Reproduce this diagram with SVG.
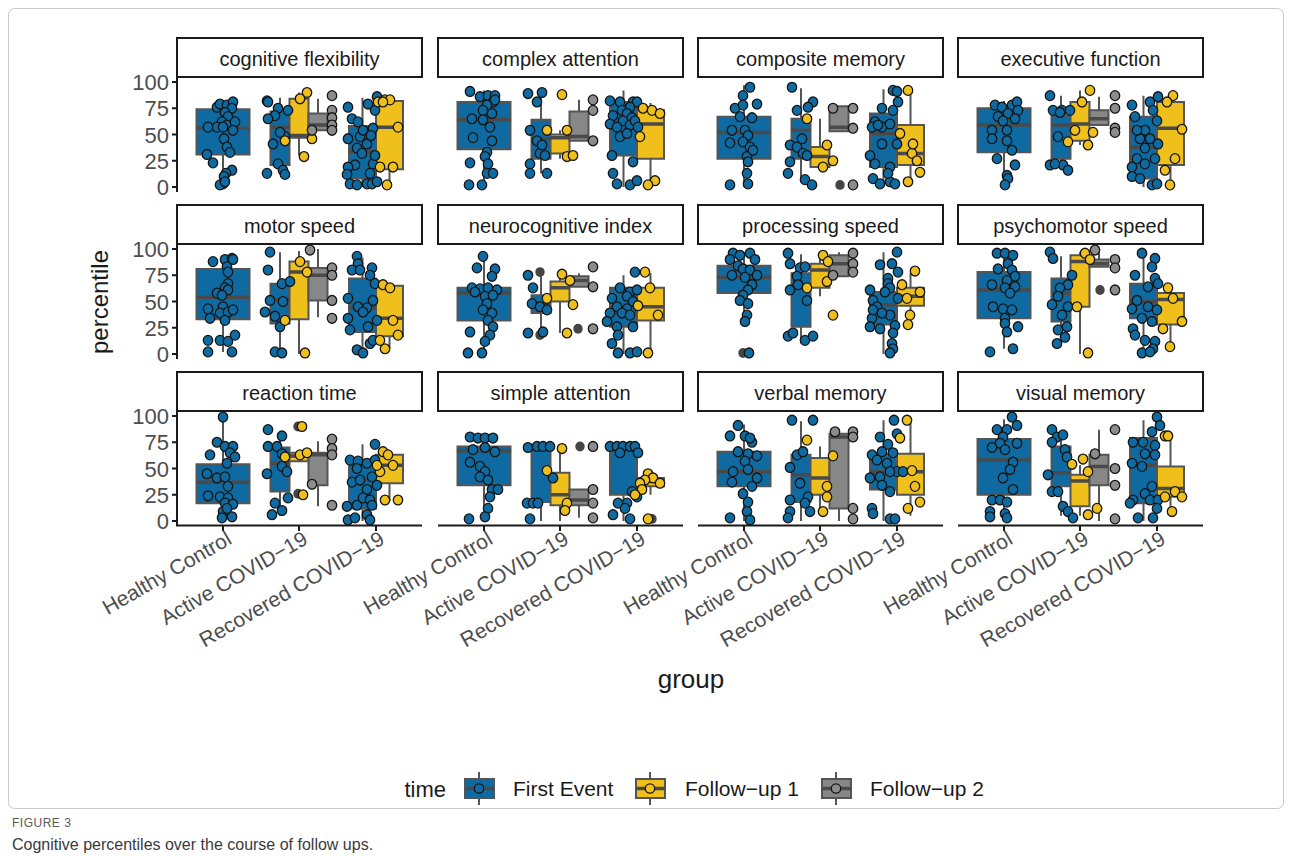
<svg xmlns="http://www.w3.org/2000/svg" width="1292" height="856" viewBox="0 0 1292 856">
<style>
text{font-family:"Liberation Sans",Arial,sans-serif}
.strip rect{fill:#fff;stroke:#1a1a1a;stroke-width:2}
.strip text{font-size:20px;fill:#1a1a1a;text-anchor:middle}
.tk{font-size:22px;fill:#4d4d4d;text-anchor:end}
.xl{font-size:21px;fill:#4d4d4d;text-anchor:end}
.ax{stroke:#1a1a1a;stroke-width:2;fill:none}
.w{stroke:#555;stroke-width:2;fill:none;vector-effect:non-scaling-stroke}
.md{stroke:#4a4a4a;stroke-width:3.5;fill:none;vector-effect:non-scaling-stroke}
.bx{stroke:#555;stroke-width:2;vector-effect:non-scaling-stroke}
.fb{fill:#0e6aa0}.fy{fill:#efbf1c}.fg{fill:#878787}
circle{r:4.7px;stroke:#151515;stroke-width:1.3;vector-effect:non-scaling-stroke}
.pb circle{fill:#0e6aa0}.py circle{fill:#efbf1c}.pg circle{fill:#8c8c8c}
.po circle{fill:#454545;stroke:none}
.lg{font-size:21px;fill:#1a1a1a}
</style>
<rect width="1292" height="856" fill="#fff"/>
<rect x="8.5" y="8.5" width="1275" height="800" rx="6" fill="none" stroke="#c8c8c8" stroke-width="1"/>

<g id="panel-cognitive-flexibility" transform="translate(177,187) scale(1,-1.05)">
<path class="w" d="M46 0V31M46 74V82M103 12V21M103 72V85M122 30V47M122 84V90M141 54V54M141 70V84M185.5 0V8M185.5 58V85M212.5 0V17M212.5 82V85"/>
<rect class="bx fb" x="19.5" y="31" width="53" height="43"/><rect class="bx fb" x="93.5" y="21" width="19" height="51"/><rect class="bx fy" x="112.5" y="47" width="19" height="37"/><rect class="bx fg" x="131.5" y="54" width="19" height="16"/><rect class="bx fb" x="172" y="8" width="27" height="50"/><rect class="bx fy" x="199" y="17" width="27" height="65"/>
<path class="md" d="M19.5 56H72.5M93.5 57H112.5M112.5 49H131.5M131.5 59H150.5M172 34H199M199 57H226"/>
<g class="pb"><circle cx="30" cy="31"/><circle cx="36" cy="23"/><circle cx="40" cy="76"/><circle cx="43" cy="79"/><circle cx="50" cy="78"/><circle cx="56" cy="81"/><circle cx="55" cy="75"/><circle cx="48" cy="71"/><circle cx="51" cy="67"/><circle cx="45" cy="62"/><circle cx="50" cy="59"/><circle cx="40" cy="57"/><circle cx="31" cy="57"/><circle cx="46" cy="57"/><circle cx="58" cy="62"/><circle cx="56" cy="54"/><circle cx="47" cy="46"/><circle cx="50" cy="38"/><circle cx="53" cy="33"/><circle cx="55" cy="16"/><circle cx="49" cy="13"/><circle cx="47" cy="10"/><circle cx="46" cy="3"/><circle cx="43" cy="2"/><circle cx="48" cy="5"/>
<circle cx="90" cy="82"/><circle cx="91" cy="81"/><circle cx="101" cy="75"/><circle cx="111" cy="73"/><circle cx="98" cy="68"/><circle cx="91" cy="65"/><circle cx="96" cy="41"/><circle cx="108" cy="48"/><circle cx="101" cy="22"/><circle cx="106" cy="16"/><circle cx="108" cy="12"/><circle cx="90" cy="13"/><circle cx="103" cy="52"/>
<circle cx="171" cy="76"/><circle cx="175" cy="65"/><circle cx="181" cy="62"/><circle cx="171" cy="46"/><circle cx="183" cy="48"/><circle cx="186" cy="54"/><circle cx="190" cy="41"/><circle cx="180" cy="37"/><circle cx="185" cy="32"/><circle cx="178" cy="21"/><circle cx="171" cy="19"/><circle cx="170" cy="12"/><circle cx="173" cy="3"/><circle cx="180" cy="2"/><circle cx="190" cy="3"/><circle cx="195" cy="3"/><circle cx="200" cy="5"/><circle cx="193" cy="13"/><circle cx="196" cy="22"/><circle cx="198" cy="30"/><circle cx="196" cy="56"/><circle cx="191" cy="79"/><circle cx="200" cy="86"/><circle cx="198" cy="73"/><circle cx="194" cy="49"/></g>
<g class="py"><circle cx="130" cy="90"/><circle cx="123" cy="84"/><circle cx="108" cy="44"/><circle cx="135" cy="46"/><circle cx="127" cy="29"/><circle cx="201" cy="81"/><circle cx="208" cy="83"/><circle cx="213" cy="83"/><circle cx="221" cy="57"/><circle cx="203" cy="19"/><circle cx="216" cy="19"/><circle cx="210" cy="2"/><circle cx="206" cy="81"/></g>
<g class="pg"><circle cx="155" cy="87"/><circle cx="155" cy="73"/><circle cx="155" cy="66"/><circle cx="155" cy="59"/><circle cx="155" cy="54"/><circle cx="135" cy="54"/></g>
</g>

<g id="panel-complex-attention" transform="translate(438,187) scale(1,-1.05)">
<path class="w" d="M46 0V36M46 81V92M103 13V27M103 64V90M122 27V32M122 50V54M141 44V44M141 72V83M185.5 0V30M185.5 81V92M212.5 0V27M212.5 73V80"/>
<rect class="bx fb" x="19.5" y="36" width="53" height="45"/><rect class="bx fb" x="93.5" y="27" width="19" height="37"/><rect class="bx fy" x="112.5" y="32" width="19" height="18"/><rect class="bx fg" x="131.5" y="44" width="19" height="28"/><rect class="bx fb" x="172" y="30" width="27" height="51"/><rect class="bx fy" x="199" y="27" width="27" height="46"/>
<path class="md" d="M19.5 64H72.5M93.5 46H112.5M112.5 47H131.5M131.5 48H150.5M172 60H199M199 60H226"/>
<g class="pb"><circle cx="32" cy="91"/><circle cx="42" cy="86"/><circle cx="50" cy="87"/><circle cx="57" cy="87"/><circle cx="55" cy="81"/><circle cx="49" cy="78"/><circle cx="45" cy="73"/><circle cx="54" cy="70"/><circle cx="34" cy="65"/><circle cx="45" cy="64"/><circle cx="52" cy="57"/><circle cx="35" cy="47"/><circle cx="54" cy="44"/><circle cx="49" cy="33"/><circle cx="47" cy="29"/><circle cx="50" cy="22"/><circle cx="32" cy="23"/><circle cx="49" cy="13"/><circle cx="55" cy="13"/><circle cx="31" cy="2"/><circle cx="44" cy="2"/><circle cx="57" cy="83"/>
<circle cx="90" cy="89"/><circle cx="104" cy="90"/><circle cx="99" cy="81"/><circle cx="92" cy="54"/><circle cx="99" cy="44"/><circle cx="102" cy="32"/><circle cx="107" cy="30"/><circle cx="92" cy="22"/><circle cx="92" cy="13"/><circle cx="109" cy="13"/><circle cx="104" cy="40"/>
<circle cx="172" cy="82"/><circle cx="182" cy="81"/><circle cx="195" cy="81"/><circle cx="199" cy="81"/><circle cx="192" cy="76"/><circle cx="184" cy="73"/><circle cx="175" cy="68"/><circle cx="189" cy="70"/><circle cx="194" cy="66"/><circle cx="172" cy="60"/><circle cx="185" cy="63"/><circle cx="179" cy="57"/><circle cx="192" cy="59"/><circle cx="182" cy="48"/><circle cx="189" cy="51"/><circle cx="174" cy="30"/><circle cx="175" cy="13"/><circle cx="179" cy="3"/><circle cx="192" cy="2"/><circle cx="199" cy="6"/><circle cx="195" cy="24"/><circle cx="197" cy="63"/><circle cx="200" cy="57"/></g>
<g class="py"><circle cx="124" cy="88"/><circle cx="109" cy="54"/><circle cx="129" cy="54"/><circle cx="129" cy="29"/><circle cx="135" cy="30"/><circle cx="205" cy="75"/><circle cx="214" cy="73"/><circle cx="222" cy="70"/><circle cx="202" cy="48"/><circle cx="217" cy="6"/><circle cx="210" cy="2"/></g>
<g class="pg"><circle cx="155" cy="83"/><circle cx="155" cy="73"/><circle cx="155" cy="44"/></g>
</g>

<g id="panel-composite-memory" transform="translate(698,187) scale(1,-1.05)">
<path class="w" d="M46 0V27M46 67V97M103 6V27M103 65V94M122 19V19M122 38V65M141 53V53M141 77V77M185.5 0V19M185.5 70V93M212.5 5V21M212.5 59V93"/>
<rect class="bx fb" x="19.5" y="27" width="53" height="40"/><rect class="bx fb" x="93.5" y="27" width="19" height="38"/><rect class="bx fy" x="112.5" y="19" width="19" height="19"/><rect class="bx fg" x="131.5" y="53" width="19" height="24"/><rect class="bx fb" x="172" y="19" width="27" height="51"/><rect class="bx fy" x="199" y="21" width="27" height="38"/>
<path class="md" d="M19.5 52H72.5M93.5 54H112.5M112.5 29H131.5M131.5 57H150.5M172 51H199M199 32H226"/>
<g class="po"><circle cx="142" cy="2"/></g>
<g class="pb"><circle cx="52" cy="95"/><circle cx="45" cy="87"/><circle cx="59" cy="79"/><circle cx="37" cy="75"/><circle cx="45" cy="78"/><circle cx="42" cy="67"/><circle cx="54" cy="66"/><circle cx="34" cy="54"/><circle cx="47" cy="54"/><circle cx="50" cy="49"/><circle cx="32" cy="42"/><circle cx="45" cy="43"/><circle cx="52" cy="38"/><circle cx="49" cy="29"/><circle cx="50" cy="24"/><circle cx="49" cy="13"/><circle cx="50" cy="3"/><circle cx="32" cy="2"/><circle cx="55" cy="35"/>
<circle cx="94" cy="95"/><circle cx="115" cy="81"/><circle cx="110" cy="76"/><circle cx="99" cy="73"/><circle cx="104" cy="46"/><circle cx="92" cy="40"/><circle cx="99" cy="38"/><circle cx="105" cy="32"/><circle cx="92" cy="24"/><circle cx="90" cy="13"/><circle cx="107" cy="7"/><circle cx="114" cy="2"/><circle cx="109" cy="30"/>
<circle cx="195" cy="92"/><circle cx="199" cy="91"/><circle cx="200" cy="81"/><circle cx="184" cy="75"/><circle cx="195" cy="73"/><circle cx="177" cy="62"/><circle cx="184" cy="57"/><circle cx="192" cy="60"/><circle cx="174" cy="57"/><circle cx="180" cy="59"/><circle cx="184" cy="41"/><circle cx="199" cy="41"/><circle cx="172" cy="30"/><circle cx="177" cy="22"/><circle cx="192" cy="19"/><circle cx="175" cy="8"/><circle cx="182" cy="3"/><circle cx="192" cy="5"/><circle cx="197" cy="3"/><circle cx="190" cy="13"/></g>
<g class="py"><circle cx="109" cy="65"/><circle cx="129" cy="40"/><circle cx="135" cy="25"/><circle cx="125" cy="19"/><circle cx="210" cy="92"/><circle cx="202" cy="51"/><circle cx="214" cy="32"/><circle cx="219" cy="25"/><circle cx="222" cy="14"/><circle cx="210" cy="5"/><circle cx="215" cy="41"/></g>
<g class="pg"><circle cx="135" cy="75"/><circle cx="155" cy="75"/><circle cx="155" cy="56"/><circle cx="155" cy="2"/></g>
</g>

<g id="panel-executive-function" transform="translate(958,187) scale(1,-1.05)">
<path class="w" d="M46 0V33M46 75V82M103 20V27M103 68V87M122 40V44M122 81V92M141 59V59M141 73V86M185.5 0V8M185.5 67V87M212.5 5V21M212.5 81V87"/>
<rect class="bx fb" x="19.5" y="33" width="53" height="42"/><rect class="bx fb" x="93.5" y="27" width="19" height="41"/><rect class="bx fy" x="112.5" y="44" width="19" height="37"/><rect class="bx fg" x="131.5" y="59" width="19" height="14"/><rect class="bx fb" x="172" y="8" width="27" height="59"/><rect class="bx fy" x="199" y="21" width="27" height="60"/>
<path class="md" d="M19.5 59H72.5M93.5 59H112.5M112.5 60H131.5M131.5 65H150.5M172 38H199M199 56H226"/>
<g class="pb"><circle cx="37" cy="78"/><circle cx="44" cy="76"/><circle cx="54" cy="78"/><circle cx="59" cy="81"/><circle cx="60" cy="73"/><circle cx="50" cy="70"/><circle cx="40" cy="67"/><circle cx="45" cy="63"/><circle cx="57" cy="65"/><circle cx="34" cy="54"/><circle cx="49" cy="54"/><circle cx="34" cy="46"/><circle cx="49" cy="44"/><circle cx="54" cy="35"/><circle cx="39" cy="27"/><circle cx="57" cy="21"/><circle cx="49" cy="11"/><circle cx="50" cy="8"/><circle cx="47" cy="2"/>
<circle cx="92" cy="87"/><circle cx="95" cy="73"/><circle cx="104" cy="73"/><circle cx="112" cy="73"/><circle cx="102" cy="71"/><circle cx="100" cy="48"/><circle cx="92" cy="21"/><circle cx="105" cy="21"/><circle cx="110" cy="16"/><circle cx="97" cy="22"/>
<circle cx="174" cy="78"/><circle cx="177" cy="67"/><circle cx="192" cy="81"/><circle cx="200" cy="86"/><circle cx="195" cy="73"/><circle cx="199" cy="63"/><circle cx="187" cy="54"/><circle cx="182" cy="46"/><circle cx="192" cy="46"/><circle cx="187" cy="37"/><circle cx="197" cy="27"/><circle cx="179" cy="27"/><circle cx="174" cy="19"/><circle cx="174" cy="10"/><circle cx="182" cy="8"/><circle cx="194" cy="2"/><circle cx="199" cy="3"/><circle cx="187" cy="22"/><circle cx="200" cy="41"/><circle cx="179" cy="54"/></g>
<g class="py"><circle cx="132" cy="92"/><circle cx="124" cy="81"/><circle cx="117" cy="54"/><circle cx="130" cy="40"/><circle cx="110" cy="43"/><circle cx="135" cy="52"/><circle cx="215" cy="87"/><circle cx="209" cy="81"/><circle cx="224" cy="55"/><circle cx="217" cy="27"/><circle cx="207" cy="16"/><circle cx="212" cy="2"/></g>
<g class="pg"><circle cx="157" cy="87"/><circle cx="157" cy="75"/><circle cx="157" cy="56"/><circle cx="157" cy="52"/></g>
</g>

<g id="panel-motor-speed" transform="translate(177,354) scale(1,-1.05)">
<path class="w" d="M46 2V33M46 81V93M103 0V29M103 67V97M122 0V33M122 88V98M141 35V51M141 82V100M185.5 0V21M185.5 72V92M212.5 5V17M212.5 65V66"/>
<rect class="bx fb" x="19.5" y="33" width="53" height="48"/><rect class="bx fb" x="93.5" y="29" width="19" height="38"/><rect class="bx fy" x="112.5" y="33" width="19" height="55"/><rect class="bx fg" x="131.5" y="51" width="19" height="31"/><rect class="bx fb" x="172" y="21" width="27" height="51"/><rect class="bx fy" x="199" y="17" width="27" height="48"/>
<path class="md" d="M19.5 54H72.5M93.5 52H112.5M112.5 78H131.5M131.5 75H150.5M172 44H199M199 34H226"/>
<g class="pb"><circle cx="36" cy="88"/><circle cx="48" cy="90"/><circle cx="55" cy="91"/><circle cx="56" cy="90"/><circle cx="50" cy="83"/><circle cx="51" cy="78"/><circle cx="51" cy="67"/><circle cx="48" cy="63"/><circle cx="51" cy="61"/><circle cx="40" cy="58"/><circle cx="45" cy="56"/><circle cx="31" cy="43"/><circle cx="33" cy="34"/><circle cx="46" cy="45"/><circle cx="43" cy="39"/><circle cx="51" cy="40"/><circle cx="56" cy="42"/><circle cx="48" cy="32"/><circle cx="31" cy="13"/><circle cx="43" cy="13"/><circle cx="51" cy="12"/><circle cx="58" cy="18"/><circle cx="31" cy="2"/><circle cx="55" cy="2"/>
<circle cx="93" cy="97"/><circle cx="91" cy="80"/><circle cx="105" cy="67"/><circle cx="113" cy="69"/><circle cx="93" cy="51"/><circle cx="106" cy="50"/><circle cx="88" cy="40"/><circle cx="98" cy="36"/><circle cx="103" cy="26"/><circle cx="98" cy="2"/><circle cx="105" cy="1"/>
<circle cx="180" cy="93"/><circle cx="181" cy="86"/><circle cx="175" cy="80"/><circle cx="183" cy="80"/><circle cx="195" cy="82"/><circle cx="193" cy="75"/><circle cx="198" cy="67"/><circle cx="196" cy="51"/><circle cx="171" cy="53"/><circle cx="181" cy="45"/><circle cx="190" cy="44"/><circle cx="171" cy="34"/><circle cx="173" cy="23"/><circle cx="186" cy="40"/><circle cx="191" cy="26"/><circle cx="180" cy="4"/><circle cx="186" cy="1"/><circle cx="193" cy="10"/><circle cx="196" cy="13"/><circle cx="200" cy="32"/></g>
<g class="py"><circle cx="123" cy="88"/><circle cx="130" cy="78"/><circle cx="108" cy="32"/><circle cx="128" cy="1"/><circle cx="206" cy="66"/><circle cx="213" cy="63"/><circle cx="216" cy="32"/><circle cx="221" cy="18"/><circle cx="208" cy="5"/><circle cx="203" cy="13"/></g>
<g class="pg"><circle cx="133" cy="99"/><circle cx="155" cy="82"/><circle cx="155" cy="75"/><circle cx="155" cy="51"/><circle cx="155" cy="34"/></g>
</g>

<g id="panel-neurocognitive-index" transform="translate(438,354) scale(1,-1.05)">
<path class="w" d="M46 0V32M46 63V92M103 20V39M103 56V77M122 20V50M122 69V77M141 64V64M141 74V77M185.5 0V26M185.5 63V75M212.5 0V32M212.5 63V77"/>
<rect class="bx fb" x="19.5" y="32" width="53" height="31"/><rect class="bx fb" x="93.5" y="39" width="19" height="17"/><rect class="bx fy" x="112.5" y="50" width="19" height="19"/><rect class="bx fg" x="131.5" y="64" width="19" height="10"/><rect class="bx fb" x="172" y="26" width="27" height="37"/><rect class="bx fy" x="199" y="32" width="27" height="31"/>
<path class="md" d="M19.5 58H72.5M93.5 48H112.5M112.5 63H131.5M131.5 70H150.5M172 39H199M199 45H226"/>
<g class="po"><circle cx="102" cy="78"/><circle cx="102" cy="18"/><circle cx="140" cy="24"/></g>
<g class="pb"><circle cx="45" cy="93"/><circle cx="39" cy="82"/><circle cx="57" cy="81"/><circle cx="54" cy="74"/><circle cx="34" cy="63"/><circle cx="42" cy="62"/><circle cx="50" cy="63"/><circle cx="59" cy="61"/><circle cx="37" cy="59"/><circle cx="47" cy="55"/><circle cx="55" cy="56"/><circle cx="49" cy="48"/><circle cx="45" cy="42"/><circle cx="54" cy="39"/><circle cx="50" cy="32"/><circle cx="55" cy="26"/><circle cx="52" cy="18"/><circle cx="32" cy="21"/><circle cx="47" cy="12"/><circle cx="30" cy="1"/><circle cx="44" cy="1"/>
<circle cx="90" cy="75"/><circle cx="95" cy="63"/><circle cx="94" cy="48"/><circle cx="102" cy="45"/><circle cx="109" cy="42"/><circle cx="90" cy="20"/><circle cx="105" cy="21"/>
<circle cx="197" cy="78"/><circle cx="182" cy="63"/><circle cx="192" cy="59"/><circle cx="199" cy="61"/><circle cx="174" cy="53"/><circle cx="189" cy="55"/><circle cx="195" cy="50"/><circle cx="179" cy="45"/><circle cx="189" cy="43"/><circle cx="172" cy="39"/><circle cx="184" cy="39"/><circle cx="192" cy="37"/><circle cx="169" cy="31"/><circle cx="179" cy="26"/><circle cx="195" cy="26"/><circle cx="180" cy="18"/><circle cx="174" cy="10"/><circle cx="180" cy="1"/><circle cx="192" cy="1"/><circle cx="199" cy="2"/></g>
<g class="py"><circle cx="124" cy="76"/><circle cx="132" cy="70"/><circle cx="109" cy="53"/><circle cx="135" cy="47"/><circle cx="129" cy="20"/><circle cx="207" cy="78"/><circle cx="212" cy="63"/><circle cx="220" cy="37"/><circle cx="210" cy="1"/><circle cx="200" cy="46"/></g>
<g class="pg"><circle cx="155" cy="83"/><circle cx="155" cy="64"/><circle cx="155" cy="24"/></g>
</g>

<g id="panel-processing-speed" transform="translate(698,354) scale(1,-1.05)">
<path class="w" d="M46 31V58M46 84V97M103 10V26M103 77V95M122 55V63M122 86V95M141 74V74M141 94V97M185.5 0V28M185.5 59V97M212.5 30V46M212.5 63V77"/>
<rect class="bx fb" x="19.5" y="58" width="53" height="26"/><rect class="bx fb" x="93.5" y="26" width="19" height="51"/><rect class="bx fy" x="112.5" y="63" width="19" height="23"/><rect class="bx fg" x="131.5" y="74" width="19" height="20"/><rect class="bx fb" x="172" y="28" width="27" height="31"/><rect class="bx fy" x="199" y="46" width="27" height="17"/>
<path class="md" d="M19.5 73H72.5M93.5 66H112.5M112.5 80H131.5M131.5 86H150.5M172 47H199M199 55H226"/>
<g class="po"><circle cx="45" cy="1"/></g>
<g class="pb"><circle cx="35" cy="96"/><circle cx="42" cy="94"/><circle cx="52" cy="96"/><circle cx="57" cy="90"/><circle cx="32" cy="90"/><circle cx="40" cy="84"/><circle cx="45" cy="81"/><circle cx="52" cy="80"/><circle cx="34" cy="75"/><circle cx="47" cy="73"/><circle cx="59" cy="75"/><circle cx="54" cy="66"/><circle cx="50" cy="61"/><circle cx="45" cy="56"/><circle cx="42" cy="51"/><circle cx="50" cy="48"/><circle cx="49" cy="37"/><circle cx="47" cy="31"/><circle cx="51" cy="1"/>
<circle cx="90" cy="96"/><circle cx="92" cy="86"/><circle cx="102" cy="82"/><circle cx="107" cy="83"/><circle cx="99" cy="74"/><circle cx="92" cy="61"/><circle cx="100" cy="66"/><circle cx="109" cy="51"/><circle cx="90" cy="17"/><circle cx="95" cy="20"/><circle cx="107" cy="13"/><circle cx="115" cy="17"/>
<circle cx="199" cy="97"/><circle cx="182" cy="85"/><circle cx="194" cy="86"/><circle cx="200" cy="78"/><circle cx="190" cy="72"/><circle cx="190" cy="67"/><circle cx="192" cy="63"/><circle cx="172" cy="61"/><circle cx="187" cy="59"/><circle cx="200" cy="53"/><circle cx="175" cy="51"/><circle cx="179" cy="45"/><circle cx="192" cy="37"/><circle cx="184" cy="39"/><circle cx="174" cy="34"/><circle cx="172" cy="26"/><circle cx="182" cy="24"/><circle cx="197" cy="27"/><circle cx="195" cy="20"/><circle cx="194" cy="10"/><circle cx="195" cy="5"/><circle cx="192" cy="1"/><circle cx="175" cy="42"/></g>
<g class="py"><circle cx="125" cy="94"/><circle cx="130" cy="88"/><circle cx="109" cy="63"/><circle cx="129" cy="69"/><circle cx="135" cy="37"/><circle cx="217" cy="79"/><circle cx="204" cy="66"/><circle cx="222" cy="59"/><circle cx="209" cy="53"/><circle cx="212" cy="37"/><circle cx="210" cy="28"/></g>
<g class="pg"><circle cx="155" cy="96"/><circle cx="155" cy="86"/><circle cx="155" cy="78"/><circle cx="135" cy="75"/></g>
</g>

<g id="panel-psychomotor-speed" transform="translate(958,354) scale(1,-1.05)">
<path class="w" d="M46 5V34M46 78V97M103 10V31M103 72V93M122 0V45M122 94V97M141 83V83M141 90V97M185.5 0V34M185.5 67V93M212.5 5V28M212.5 58V66"/>
<rect class="bx fb" x="19.5" y="34" width="53" height="44"/><rect class="bx fb" x="93.5" y="31" width="19" height="41"/><rect class="bx fy" x="112.5" y="45" width="19" height="49"/><rect class="bx fg" x="131.5" y="83" width="19" height="7"/><rect class="bx fb" x="172" y="34" width="27" height="33"/><rect class="bx fy" x="199" y="28" width="27" height="30"/>
<path class="md" d="M19.5 61H72.5M93.5 58H112.5M112.5 88H131.5M131.5 86H150.5M172 50H199M199 52H226"/>
<g class="po"><circle cx="142" cy="61"/></g>
<g class="pb"><circle cx="39" cy="96"/><circle cx="47" cy="96"/><circle cx="55" cy="94"/><circle cx="50" cy="86"/><circle cx="40" cy="81"/><circle cx="54" cy="80"/><circle cx="57" cy="74"/><circle cx="49" cy="70"/><circle cx="34" cy="66"/><circle cx="47" cy="63"/><circle cx="57" cy="64"/><circle cx="52" cy="58"/><circle cx="35" cy="45"/><circle cx="45" cy="43"/><circle cx="54" cy="42"/><circle cx="47" cy="34"/><circle cx="47" cy="29"/><circle cx="60" cy="26"/><circle cx="49" cy="21"/><circle cx="32" cy="2"/><circle cx="55" cy="5"/>
<circle cx="92" cy="97"/><circle cx="95" cy="91"/><circle cx="114" cy="75"/><circle cx="110" cy="66"/><circle cx="102" cy="63"/><circle cx="100" cy="55"/><circle cx="94" cy="47"/><circle cx="110" cy="45"/><circle cx="104" cy="37"/><circle cx="109" cy="26"/><circle cx="100" cy="23"/><circle cx="99" cy="10"/><circle cx="107" cy="16"/>
<circle cx="184" cy="96"/><circle cx="197" cy="91"/><circle cx="194" cy="83"/><circle cx="177" cy="75"/><circle cx="197" cy="72"/><circle cx="200" cy="67"/><circle cx="190" cy="64"/><circle cx="179" cy="51"/><circle cx="190" cy="45"/><circle cx="199" cy="42"/><circle cx="174" cy="43"/><circle cx="184" cy="34"/><circle cx="194" cy="31"/><circle cx="175" cy="24"/><circle cx="177" cy="18"/><circle cx="187" cy="13"/><circle cx="197" cy="12"/><circle cx="195" cy="5"/><circle cx="184" cy="1"/><circle cx="192" cy="2"/></g>
<g class="py"><circle cx="127" cy="96"/><circle cx="132" cy="90"/><circle cx="119" cy="45"/><circle cx="130" cy="1"/><circle cx="210" cy="63"/><circle cx="215" cy="53"/><circle cx="224" cy="31"/><circle cx="205" cy="24"/><circle cx="212" cy="7"/></g>
<g class="pg"><circle cx="137" cy="99"/><circle cx="157" cy="90"/><circle cx="157" cy="82"/><circle cx="157" cy="61"/></g>
</g>

<g id="panel-reaction-time" transform="translate(177,521) scale(1,-1.05)">
<path class="w" d="M46 0V17M46 54V100M103 5V28M103 70V85M122 57V57M122 65V66M141 14V34M141 65V76M185.5 0V12M185.5 53V73M212.5 19V36M212.5 63V66"/>
<rect class="bx fb" x="19.5" y="17" width="53" height="37"/><rect class="bx fb" x="93.5" y="28" width="19" height="42"/><rect class="bx fy" x="112.5" y="57" width="19" height="8"/><rect class="bx fg" x="131.5" y="34" width="19" height="31"/><rect class="bx fb" x="172" y="12" width="27" height="41"/><rect class="bx fy" x="199" y="36" width="27" height="27"/>
<path class="md" d="M19.5 37H72.5M93.5 55H112.5M112.5 62H131.5M131.5 63H150.5M172 39H199M199 53H226"/>
<g class="po"><circle cx="121" cy="26"/><circle cx="121" cy="90"/></g>
<g class="pb"><circle cx="46" cy="99"/><circle cx="40" cy="75"/><circle cx="33" cy="63"/><circle cx="48" cy="71"/><circle cx="56" cy="71"/><circle cx="53" cy="65"/><circle cx="58" cy="61"/><circle cx="50" cy="55"/><circle cx="30" cy="45"/><circle cx="40" cy="41"/><circle cx="48" cy="42"/><circle cx="51" cy="33"/><circle cx="31" cy="24"/><circle cx="43" cy="23"/><circle cx="51" cy="22"/><circle cx="48" cy="17"/><circle cx="56" cy="16"/><circle cx="46" cy="9"/><circle cx="45" cy="3"/><circle cx="55" cy="4"/><circle cx="50" cy="12"/>
<circle cx="91" cy="87"/><circle cx="105" cy="81"/><circle cx="91" cy="71"/><circle cx="100" cy="71"/><circle cx="105" cy="64"/><circle cx="105" cy="52"/><circle cx="110" cy="47"/><circle cx="90" cy="45"/><circle cx="111" cy="22"/><circle cx="98" cy="17"/><circle cx="105" cy="10"/><circle cx="95" cy="6"/>
<circle cx="173" cy="58"/><circle cx="181" cy="57"/><circle cx="190" cy="55"/><circle cx="198" cy="58"/><circle cx="198" cy="73"/><circle cx="180" cy="50"/><circle cx="175" cy="37"/><circle cx="183" cy="39"/><circle cx="195" cy="42"/><circle cx="190" cy="30"/><circle cx="170" cy="14"/><circle cx="180" cy="15"/><circle cx="186" cy="22"/><circle cx="193" cy="20"/><circle cx="195" cy="15"/><circle cx="171" cy="1"/><circle cx="178" cy="3"/><circle cx="190" cy="6"/><circle cx="193" cy="1"/><circle cx="200" cy="34"/></g>
<g class="py"><circle cx="125" cy="90"/><circle cx="108" cy="61"/><circle cx="123" cy="63"/><circle cx="130" cy="65"/><circle cx="126" cy="25"/><circle cx="206" cy="66"/><circle cx="211" cy="63"/><circle cx="216" cy="53"/><circle cx="203" cy="47"/><circle cx="208" cy="20"/><circle cx="221" cy="20"/><circle cx="200" cy="53"/></g>
<g class="pg"><circle cx="155" cy="78"/><circle cx="155" cy="69"/><circle cx="155" cy="63"/><circle cx="135" cy="35"/><circle cx="155" cy="15"/></g>
</g>

<g id="panel-simple-attention" transform="translate(438,521) scale(1,-1.05)">
<path class="w" d="M46 0V34M46 71V78M103 0V18M103 71V71M122 0V15M122 46V69M141 3V15M141 30V30M185.5 0V25M185.5 71V71M212.5 25V33M212.5 41V46"/>
<rect class="bx fb" x="19.5" y="34" width="53" height="37"/><rect class="bx fb" x="93.5" y="18" width="19" height="53"/><rect class="bx fy" x="112.5" y="15" width="19" height="31"/><rect class="bx fg" x="131.5" y="15" width="19" height="15"/><rect class="bx fb" x="172" y="25" width="27" height="46"/><rect class="bx fy" x="199" y="33" width="27" height="8"/>
<path class="md" d="M19.5 67H72.5M93.5 70H112.5M112.5 25H131.5M131.5 20H150.5M172 70H199M199 38H226"/>
<g class="po"><circle cx="142" cy="71"/><circle cx="214" cy="2"/></g>
<g class="pb"><circle cx="32" cy="80"/><circle cx="40" cy="79"/><circle cx="47" cy="79"/><circle cx="55" cy="79"/><circle cx="35" cy="68"/><circle cx="47" cy="70"/><circle cx="57" cy="66"/><circle cx="32" cy="56"/><circle cx="42" cy="52"/><circle cx="47" cy="47"/><circle cx="42" cy="42"/><circle cx="50" cy="39"/><circle cx="54" cy="30"/><circle cx="60" cy="30"/><circle cx="52" cy="23"/><circle cx="50" cy="12"/><circle cx="47" cy="4"/><circle cx="31" cy="2"/>
<circle cx="90" cy="70"/><circle cx="99" cy="71"/><circle cx="105" cy="71"/><circle cx="112" cy="71"/><circle cx="115" cy="41"/><circle cx="89" cy="17"/><circle cx="95" cy="17"/><circle cx="100" cy="17"/><circle cx="92" cy="2"/>
<circle cx="172" cy="71"/><circle cx="179" cy="71"/><circle cx="185" cy="71"/><circle cx="192" cy="71"/><circle cx="197" cy="71"/><circle cx="182" cy="65"/><circle cx="200" cy="65"/><circle cx="194" cy="28"/><circle cx="199" cy="23"/><circle cx="189" cy="17"/><circle cx="180" cy="17"/><circle cx="187" cy="12"/><circle cx="175" cy="6"/><circle cx="192" cy="2"/></g>
<g class="py"><circle cx="124" cy="69"/><circle cx="109" cy="48"/><circle cx="129" cy="17"/><circle cx="127" cy="10"/><circle cx="210" cy="45"/><circle cx="215" cy="41"/><circle cx="207" cy="39"/><circle cx="222" cy="36"/><circle cx="202" cy="36"/><circle cx="204" cy="30"/><circle cx="197" cy="25"/><circle cx="210" cy="2"/></g>
<g class="pg"><circle cx="155" cy="71"/><circle cx="155" cy="30"/><circle cx="155" cy="17"/><circle cx="155" cy="3"/></g>
</g>

<g id="panel-verbal-memory" transform="translate(698,521) scale(1,-1.05)">
<path class="w" d="M46 0V33M46 66V92M103 0V18M103 63V95M122 10V25M122 60V71M141 0V12M141 83V85M185.5 0V30M185.5 64V96M212.5 5V25M212.5 64V95"/>
<rect class="bx fb" x="19.5" y="33" width="53" height="33"/><rect class="bx fb" x="93.5" y="18" width="19" height="45"/><rect class="bx fy" x="112.5" y="25" width="19" height="35"/><rect class="bx fg" x="131.5" y="12" width="19" height="71"/><rect class="bx fb" x="172" y="30" width="27" height="34"/><rect class="bx fy" x="199" y="25" width="27" height="39"/>
<path class="md" d="M19.5 47H72.5M93.5 44H112.5M112.5 41H131.5M131.5 80H150.5M172 47H199M199 47H226"/>
<g class="pb"><circle cx="40" cy="91"/><circle cx="32" cy="81"/><circle cx="47" cy="81"/><circle cx="54" cy="75"/><circle cx="52" cy="79"/><circle cx="40" cy="66"/><circle cx="50" cy="64"/><circle cx="59" cy="62"/><circle cx="47" cy="57"/><circle cx="35" cy="47"/><circle cx="50" cy="49"/><circle cx="59" cy="41"/><circle cx="34" cy="37"/><circle cx="54" cy="33"/><circle cx="45" cy="26"/><circle cx="50" cy="18"/><circle cx="49" cy="9"/><circle cx="52" cy="1"/><circle cx="32" cy="3"/>
<circle cx="94" cy="96"/><circle cx="115" cy="96"/><circle cx="99" cy="63"/><circle cx="105" cy="66"/><circle cx="92" cy="51"/><circle cx="102" cy="36"/><circle cx="110" cy="23"/><circle cx="92" cy="20"/><circle cx="107" cy="17"/><circle cx="92" cy="9"/><circle cx="90" cy="3"/><circle cx="112" cy="9"/>
<circle cx="196" cy="96"/><circle cx="199" cy="83"/><circle cx="182" cy="80"/><circle cx="190" cy="73"/><circle cx="174" cy="63"/><circle cx="184" cy="66"/><circle cx="195" cy="65"/><circle cx="179" cy="58"/><circle cx="189" cy="55"/><circle cx="199" cy="47"/><circle cx="192" cy="47"/><circle cx="205" cy="47"/><circle cx="172" cy="41"/><circle cx="182" cy="42"/><circle cx="184" cy="34"/><circle cx="192" cy="28"/><circle cx="174" cy="12"/><circle cx="175" cy="7"/><circle cx="192" cy="2"/><circle cx="197" cy="2"/></g>
<g class="py"><circle cx="109" cy="77"/><circle cx="135" cy="62"/><circle cx="129" cy="33"/><circle cx="129" cy="23"/><circle cx="125" cy="9"/><circle cx="209" cy="96"/><circle cx="202" cy="79"/><circle cx="214" cy="48"/><circle cx="217" cy="33"/><circle cx="222" cy="18"/><circle cx="210" cy="12"/></g>
<g class="pg"><circle cx="137" cy="85"/><circle cx="155" cy="85"/><circle cx="155" cy="80"/><circle cx="155" cy="12"/><circle cx="155" cy="2"/></g>
</g>

<g id="panel-visual-memory" transform="translate(958,521) scale(1,-1.05)">
<path class="w" d="M46 0V25M46 78V97M103 5V33M103 71V85M122 5V14M122 44V53M141 0V34M141 63V87M185.5 0V17M185.5 79V96M212.5 5V23M212.5 52V82"/>
<rect class="bx fb" x="19.5" y="25" width="53" height="53"/><rect class="bx fb" x="93.5" y="33" width="19" height="38"/><rect class="bx fy" x="112.5" y="14" width="19" height="30"/><rect class="bx fg" x="131.5" y="34" width="19" height="29"/><rect class="bx fb" x="172" y="17" width="27" height="62"/><rect class="bx fy" x="199" y="23" width="27" height="29"/>
<path class="md" d="M19.5 58H72.5M93.5 46H112.5M112.5 38H131.5M131.5 52H150.5M172 53H199M199 31H226"/>
<g class="pb"><circle cx="54" cy="99"/><circle cx="59" cy="91"/><circle cx="39" cy="87"/><circle cx="49" cy="87"/><circle cx="45" cy="80"/><circle cx="42" cy="74"/><circle cx="59" cy="74"/><circle cx="34" cy="70"/><circle cx="47" cy="68"/><circle cx="55" cy="56"/><circle cx="52" cy="49"/><circle cx="45" cy="41"/><circle cx="55" cy="30"/><circle cx="34" cy="20"/><circle cx="42" cy="20"/><circle cx="49" cy="18"/><circle cx="32" cy="9"/><circle cx="47" cy="7"/><circle cx="32" cy="4"/><circle cx="49" cy="3"/>
<circle cx="94" cy="87"/><circle cx="99" cy="80"/><circle cx="105" cy="82"/><circle cx="94" cy="75"/><circle cx="107" cy="68"/><circle cx="109" cy="61"/><circle cx="90" cy="44"/><circle cx="94" cy="28"/><circle cx="100" cy="28"/><circle cx="105" cy="14"/><circle cx="110" cy="9"/><circle cx="115" cy="3"/>
<circle cx="199" cy="99"/><circle cx="202" cy="91"/><circle cx="194" cy="85"/><circle cx="175" cy="75"/><circle cx="185" cy="75"/><circle cx="197" cy="72"/><circle cx="187" cy="64"/><circle cx="197" cy="63"/><circle cx="174" cy="55"/><circle cx="184" cy="52"/><circle cx="194" cy="33"/><circle cx="187" cy="26"/><circle cx="175" cy="20"/><circle cx="192" cy="20"/><circle cx="200" cy="20"/><circle cx="199" cy="12"/><circle cx="180" cy="3"/><circle cx="195" cy="3"/><circle cx="172" cy="17"/></g>
<g class="py"><circle cx="114" cy="54"/><circle cx="125" cy="59"/><circle cx="130" cy="47"/><circle cx="130" cy="6"/><circle cx="139" cy="12"/><circle cx="207" cy="81"/><circle cx="210" cy="81"/><circle cx="217" cy="28"/><circle cx="224" cy="23"/><circle cx="214" cy="9"/><circle cx="207" cy="23"/></g>
<g class="pg"><circle cx="137" cy="64"/><circle cx="157" cy="87"/><circle cx="157" cy="50"/><circle cx="157" cy="34"/><circle cx="157" cy="2"/></g>
</g>

<g id="strips" class="strip">
<rect x="177" y="38" width="245" height="39"/><text x="299.5" y="66">cognitive flexibility</text>
<rect x="438" y="38" width="245" height="39"/><text x="560.5" y="66">complex attention</text>
<rect x="698" y="38" width="245" height="39"/><text x="820.5" y="66">composite memory</text>
<rect x="958" y="38" width="245" height="39"/><text x="1080.5" y="66">executive function</text>
<rect x="177" y="205" width="245" height="39"/><text x="299.5" y="233">motor speed</text>
<rect x="438" y="205" width="245" height="39"/><text x="560.5" y="233">neurocognitive index</text>
<rect x="698" y="205" width="245" height="39"/><text x="820.5" y="233">processing speed</text>
<rect x="958" y="205" width="245" height="39"/><text x="1080.5" y="233">psychomotor speed</text>
<rect x="177" y="372" width="245" height="39"/><text x="299.5" y="400">reaction time</text>
<rect x="438" y="372" width="245" height="39"/><text x="560.5" y="400">simple attention</text>
<rect x="698" y="372" width="245" height="39"/><text x="820.5" y="400">verbal memory</text>
<rect x="958" y="372" width="245" height="39"/><text x="1080.5" y="400">visual memory</text>
</g>

<g id="axes">
<path class="ax" d="M177 77V192M177 244V359M177 411V526M172 187H177M172 160.75H177M172 134.5H177M172 108.25H177M172 82H177M172 354H177M172 327.75H177M172 301.5H177M172 275.25H177M172 249H177M172 521H177M172 494.75H177M172 468.5H177M172 442.25H177M172 416H177"/>
<path class="ax" d="M176 525.5H422M438 525.5H683M698 525.5H943M958 525.5H1203M223 525V531M299 525V531M376 525V531M484 525V531M560 525V531M637 525V531M744 525V531M820 525V531M897 525V531M1004 525V531M1080 525V531M1157 525V531"/>
<g class="tk">
<text x="169" y="195">0</text><text x="169" y="168.75">25</text><text x="169" y="142.5">50</text><text x="169" y="116.25">75</text><text x="169" y="90">100</text>
<text x="169" y="362">0</text><text x="169" y="335.75">25</text><text x="169" y="309.5">50</text><text x="169" y="283.25">75</text><text x="169" y="257">100</text>
<text x="169" y="529">0</text><text x="169" y="502.75">25</text><text x="169" y="476.5">50</text><text x="169" y="450.25">75</text><text x="169" y="424">100</text>
</g>
<g class="xl">
<text transform="translate(233,543) rotate(-30)">Healthy Control</text>
<text transform="translate(309,543) rotate(-30)">Active COVID−19</text>
<text transform="translate(386,543) rotate(-30)">Recovered COVID−19</text>
<text transform="translate(494,543) rotate(-30)">Healthy Control</text>
<text transform="translate(570,543) rotate(-30)">Active COVID−19</text>
<text transform="translate(647,543) rotate(-30)">Recovered COVID−19</text>
<text transform="translate(754,543) rotate(-30)">Healthy Control</text>
<text transform="translate(830,543) rotate(-30)">Active COVID−19</text>
<text transform="translate(907,543) rotate(-30)">Recovered COVID−19</text>
<text transform="translate(1014,543) rotate(-30)">Healthy Control</text>
<text transform="translate(1090,543) rotate(-30)">Active COVID−19</text>
<text transform="translate(1167,543) rotate(-30)">Recovered COVID−19</text>
</g>
<text x="108" y="302" transform="rotate(-90 108 302)" text-anchor="middle" font-size="24" fill="#1a1a1a">percentile</text>
<text x="691" y="688" text-anchor="middle" font-size="26" fill="#1a1a1a">group</text>
</g>

<g id="legend">
<text x="446" y="797" text-anchor="end" font-size="22" fill="#1a1a1a">time</text>
<path class="w" d="M479 772V805M650 772V805M836 772V805"/>
<rect class="bx fb" x="465" y="779" width="29" height="19"/><rect class="bx fy" x="636" y="779" width="29" height="19"/><rect class="bx fg" x="822" y="779" width="29" height="19"/>
<path class="md" d="M465 788.5H494M636 788.5H665M822 788.5H851"/>
<g class="pb"><circle cx="479" cy="788.5"/></g><g class="py"><circle cx="650" cy="788.5"/></g><g class="pg"><circle cx="836" cy="788.5"/></g>
<text class="lg" x="513" y="796">First Event</text>
<text class="lg" x="685" y="796">Follow−up 1</text>
<text class="lg" x="870" y="796">Follow−up 2</text>
</g>

<g id="caption">
<text x="12" y="827" font-family="'Open Sans',sans-serif" font-size="12" fill="#5a5a5a" letter-spacing="0.5">FIGURE 3</text>
<text x="12" y="850" font-family="'Open Sans',sans-serif" font-size="16" fill="#3a3a3a">Cognitive percentiles over the course of follow ups.</text>
</g>
</svg>
